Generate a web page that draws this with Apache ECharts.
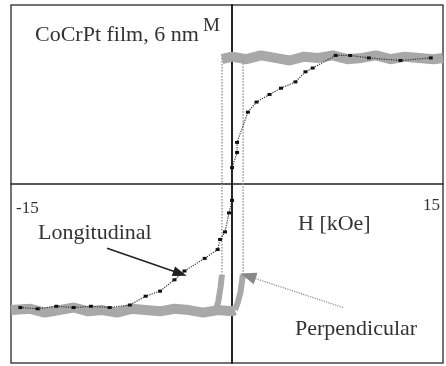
<!DOCTYPE html>
<html><head><meta charset="utf-8">
<script src="https://cdn.jsdelivr.net/npm/echarts@6/dist/echarts.min.js"></script>
<style>html,body{margin:0;padding:0;background:#fff}#c{width:446px;height:366px}</style>
</head><body><div id="c"></div>
<script>
// Perpendicular loop (gray), H in kOe, M normalised
var perpTopH = [-0.7, 0, 1, 2, 3, 4, 5, 6, 7, 8, 9, 10, 11, 12, 13, 14, 14.65];
var perpTopM = [0.99, 1.01, 0.99, 1.02, 1.0, 0.98, 1.01, 1.0, 1.02, 0.99, 1.0, 1.02, 0.99, 1.01, 1.0, 0.99, 1.0];
var perpBotH = [-15.35, -14, -13, -12, -11, -10, -9, -8, -7, -6, -5, -4, -3, -2, -1, 0, 0.2];
var perpBotM = [-1.0, -0.99, -1.02, -1.0, -0.98, -1.01, -1.0, -1.02, -0.99, -1.0, -1.01, -0.99, -1.0, -1.02, -1.0, -1.01, -1.0];
var perpDescTailH = [-0.7, -0.8, -0.95, -1.1];
var perpDescTailM = [-0.72, -0.82, -0.93, -0.99];
var perpAscTailH = [0.2, 0.4, 0.6, 0.75];
var perpAscTailM = [-1.0, -0.94, -0.85, -0.72];
var perpSwitchDownH = [-0.7, -0.7];
var perpSwitchDownM = [1.0, -0.72];
var perpSwitchUpH = [0.77, 0.77];
var perpSwitchUpM = [-0.72, 1.0];
// Longitudinal curve (black dots)
var longH = [-14.7, -13.5, -12.2, -11.0, -9.8, -8.5, -7.1, -6.0, -5.0, -4.0, -3.3, -1.9, -1.0, -0.83, -0.49, -0.21, 0, 0, 0.35, 0.35, 1.1, 1.7, 2.6, 3.4, 4.4, 5.1, 5.6, 7.2, 8.2, 9.5, 11.7, 13.8];
var longM = [-0.98, -0.99, -0.97, -0.98, -0.97, -0.98, -0.96, -0.89, -0.85, -0.76, -0.69, -0.59, -0.52, -0.44, -0.38, -0.23, -0.13, 0.13, 0.25, 0.33, 0.57, 0.65, 0.71, 0.76, 0.81, 0.89, 0.92, 1.02, 1.02, 1.0, 0.98, 1.0];

function pairs(a, b) { return a.map(function (v, i) { return [v, b[i]]; }); }

var gray = '#a8a8a8';
var chart = echarts.init(document.getElementById('c'));
var serif = '"Liberation Serif", "DejaVu Serif", serif';
chart.setOption({
  animation: false,
  grid: { left: 11, right: 3, top: 5, bottom: 3, show: true, borderColor: '#444', borderWidth: 1.5, backgroundColor: '#fff' },
  xAxis: { type: 'value', min: -15.35, max: 14.65, axisLine: { onZero: true, lineStyle: { color: '#222', width: 1.5 } }, axisTick: { show: false }, axisLabel: { show: false }, splitLine: { show: false } },
  yAxis: { type: 'value', min: -1.42, max: 1.42, axisLine: { onZero: true, lineStyle: { color: '#222', width: 2 } }, axisTick: { show: false }, axisLabel: { show: false }, splitLine: { show: false } },
  series: [
    { type: 'line', data: pairs(perpTopH, perpTopM), symbol: 'none', lineStyle: { color: gray, width: 10 }, z: 2 },
    { type: 'line', data: pairs(perpBotH, perpBotM), symbol: 'none', lineStyle: { color: gray, width: 10 }, z: 2 },
    { type: 'line', data: pairs(perpDescTailH, perpDescTailM), symbol: 'none', lineStyle: { color: gray, width: 6 }, z: 2 },
    { type: 'line', data: pairs(perpAscTailH, perpAscTailM), symbol: 'none', lineStyle: { color: gray, width: 6 }, z: 2 },
    { type: 'line', data: pairs(perpSwitchDownH, perpSwitchDownM), symbol: 'none', lineStyle: { color: '#999', width: 1.5, type: 'dotted' }, z: 2 },
    { type: 'line', data: pairs(perpSwitchUpH, perpSwitchUpM), symbol: 'none', lineStyle: { color: '#999', width: 1.5, type: 'dotted' }, z: 2,
      markLine: { silent: true, symbol: ['none', 'triangle'], symbolSize: [12, 16], label: { show: false },
        lineStyle: { color: '#888', width: 1.2, type: 'dotted' },
        data: [[{ coord: [7.71, -0.98] }, { coord: [1.11, -0.73] }]] } },
    { type: 'line', data: pairs(longH, longM), symbol: 'rect', symbolSize: [4, 3], itemStyle: { color: '#111' }, lineStyle: { color: '#333', width: 1.2, type: 'dotted' }, z: 3,
      markLine: { silent: true, symbol: ['none', 'triangle'], symbolSize: [10, 14], label: { show: false },
        lineStyle: { color: '#222', width: 1.5, type: 'solid' },
        data: [[{ coord: [-8.68, -0.51] }, { coord: [-3.61, -0.71] }]] } }
  ],
  graphic: [
    { type: 'text', left: 35, top: 24, style: { text: 'CoCrPt film, 6 nm', font: '22px ' + serif, fill: '#333' } },
    { type: 'text', left: 203, top: 17, style: { text: 'M', font: '19px ' + serif, fill: '#333' } },
    { type: 'text', left: 16, top: 200, style: { text: '-15', font: '17px ' + serif, fill: '#333' } },
    { type: 'text', left: 423, top: 197, style: { text: '15', font: '17px ' + serif, fill: '#333' } },
    { type: 'text', left: 298, top: 213, style: { text: 'H [kOe]', font: '22px ' + serif, fill: '#333' } },
    { type: 'text', left: 38, top: 222, style: { text: 'Longitudinal', font: '22px ' + serif, fill: '#333' } },
    { type: 'text', left: 295, top: 318, style: { text: 'Perpendicular', font: '22px ' + serif, fill: '#333' } }
  ]
});
</script></body></html>
